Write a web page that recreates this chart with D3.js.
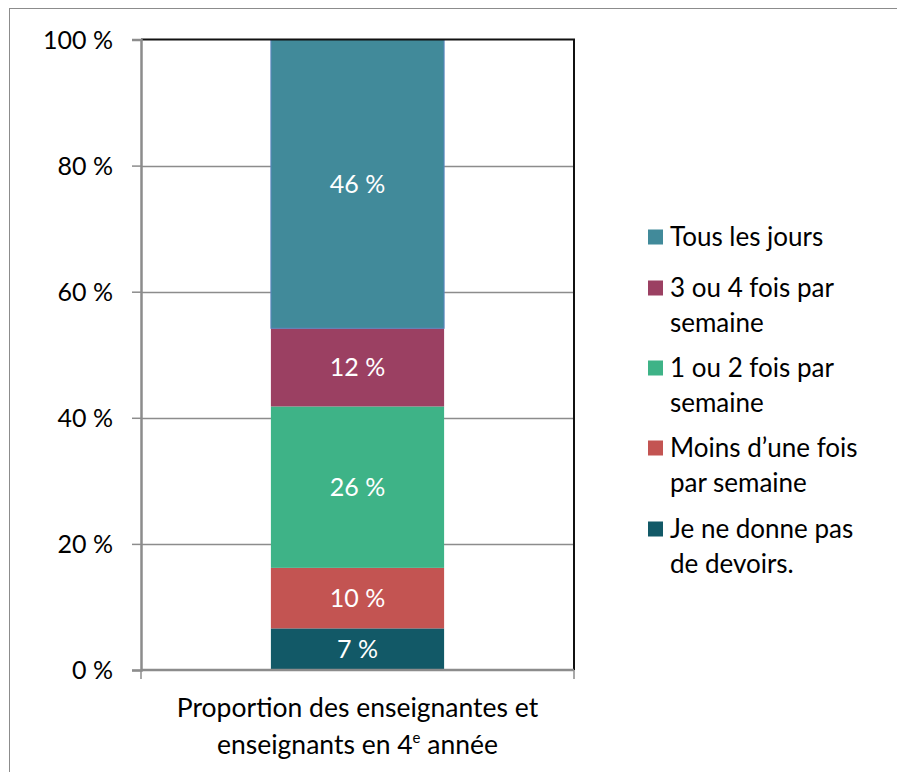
<!DOCTYPE html>
<html><head><meta charset="utf-8">
<script src="https://cdn.jsdelivr.net/npm/d3@7"></script>
<style>body{margin:0;background:#fff}svg{display:block;font-family:Lato,"Open Sans",sans-serif}</style>
</head><body><div id="chart"></div>
<script>
const categories = ["Proportion des enseignantes et enseignants en 4e année"];
const seriesNames = ["Je ne donne pas de devoirs.", "Moins d’une fois par semaine", "1 ou 2 fois par semaine", "3 ou 4 fois par semaine", "Tous les jours"];
const seriesValues = [6.6, 9.6, 25.6, 12.4, 45.8];
const seriesLabels = ["7 %", "10 %", "26 %", "12 %", "46 %"];
const seriesColors = ["#125967", "#C35452", "#3EB387", "#9B4062", "#418A9A"];
const legendLines = [["Tous les jours"], ["3 ou 4 fois par", "semaine"], ["1 ou 2 fois par", "semaine"], ["Moins d’une fois", "par semaine"], ["Je ne donne pas", "de devoirs."]];
const legendColorIdx = [4, 3, 2, 1, 0];
const yTicks = [0, 20, 40, 60, 80, 100];
const yTickLabels = ["0 %", "20 %", "40 %", "60 %", "80 %", "100 %"];

const W = 897, H = 772;
const svg = d3.select("#chart").append("svg").attr("width", W).attr("height", H);

// outer frame
svg.append("rect").attr("x", 9.5).attr("y", 8.5).attr("width", 1000).attr("height", 1000)
  .attr("fill", "none").attr("stroke", "#8c8c8c").attr("stroke-width", 1);

const L = 141, R = 574, T = 39.5, B = 670;
const y = d3.scaleLinear().domain([0, 100]).range([B, T]);
const x = d3.scaleBand().domain(categories).range([L, R]).paddingInner(0.6).paddingOuter(0.3);

// gridlines
svg.append("g").selectAll("line").data(yTicks.filter(d => d > 0 && d < 100)).join("line")
  .attr("x1", L).attr("x2", R).attr("y1", d => Math.round(y(d)) + 0.5).attr("y2", d => Math.round(y(d)) + 0.5)
  .attr("stroke", "#8c8c8c").attr("stroke-width", 1.5);

// stacked bar
let cum = 0;
const stacks = seriesValues.map((v, i) => { const s = { i, y0: cum, y1: cum + v }; cum += v; return s; });
const cat = categories[0];
svg.append("g").selectAll("rect").data(stacks).join("rect")
  .attr("x", x(cat)).attr("width", x.bandwidth())
  .attr("y", d => y(d.y1)).attr("height", d => y(d.y0) - y(d.y1))
  .attr("fill", d => seriesColors[d.i])
  .attr("stroke", d => d.i === 4 ? "#5a85c0" : "none").attr("stroke-width", 1);

svg.append("g").selectAll("text").data(stacks).join("text")
  .attr("x", x(cat) + x.bandwidth() / 2).attr("y", d => y((d.y0 + d.y1) / 2))
  .attr("dy", "0.35em").attr("text-anchor", "middle").attr("fill", "#fff")
  .attr("font-size", 25).text(d => seriesLabels[d.i]);

// plot frame top & right (black)
svg.append("path").attr("d", `M${L},${T}H${R}V${B}`).attr("fill", "none").attr("stroke", "#111").attr("stroke-width", 2);

// y axis
const yAxis = d3.axisLeft(y).tickValues(yTicks).tickSize(9).tickFormat((d, i) => yTickLabels[i]);
const gy = svg.append("g").attr("transform", `translate(${L},0)`).call(yAxis);
gy.select(".domain").attr("stroke", "#8c8c8c").attr("stroke-width", 2.5);
gy.selectAll(".tick line").attr("stroke", "#8c8c8c").attr("stroke-width", 1.5);
gy.selectAll(".tick text").attr("font-size", 25).attr("fill", "#000").attr("font-family", "Lato").attr("x", -28).attr("dy", "0.35em");

// x axis
const gx = svg.append("g").attr("transform", `translate(0,${B})`);
gx.append("line").attr("x1", L).attr("x2", R).attr("stroke", "#8c8c8c").attr("stroke-width", 2.5);
gx.selectAll(".xt").data([L, R]).join("line").attr("x1", d => d).attr("x2", d => d).attr("y1", 0).attr("y2", 9)
  .attr("stroke", "#8c8c8c").attr("stroke-width", 1.5);
const xl = svg.append("text").attr("text-anchor", "middle").attr("font-size", 26.5).attr("fill", "#000");
xl.append("tspan").attr("x", (L + R) / 2).attr("y", 717).text("Proportion des enseignantes et");
const t2 = xl.append("tspan").attr("x", (L + R) / 2).attr("y", 754);
t2.append("tspan").text("enseignants en 4");
t2.append("tspan").attr("font-size", 15).attr("dy", -11).text("e");
t2.append("tspan").attr("dy", 11).text(" année");

// legend
const legFirstY = [237, 288, 368, 448, 529];
const lg = svg.append("g");
legendLines.forEach((lines, k) => {
  const yy = legFirstY[k];
  lg.append("rect").attr("x", 648).attr("y", yy - 7.5).attr("width", 15).attr("height", 15).attr("fill", seriesColors[legendColorIdx[k]]);
  lines.forEach((ln, j) => {
    lg.append("text").attr("x", 670).attr("y", yy + j * 35).attr("dy", "0.35em").attr("font-size", 26).attr("fill", "#000").text(ln);
  });
});
</script></body></html>
